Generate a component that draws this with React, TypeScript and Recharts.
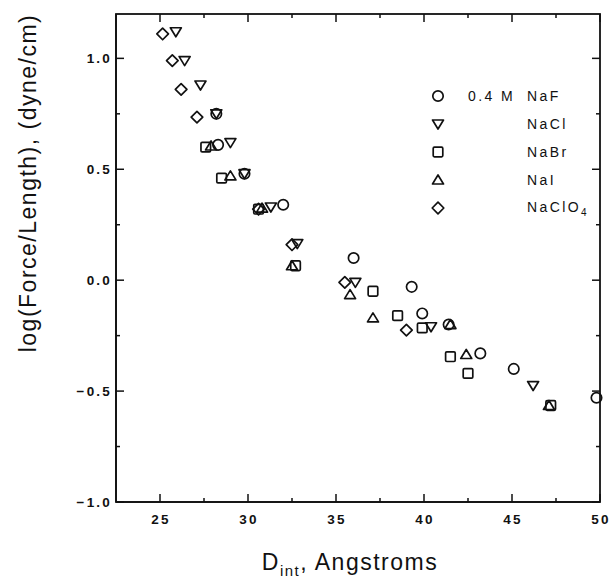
import { ScatterChart, Scatter, XAxis, YAxis, Legend } from "recharts"

const FONT = "'Liberation Sans', Arial, sans-serif"
const INK = "#111"

const W = 613
const H = 581
const MARGIN = { top: 14, right: 13, bottom: 19, left: 0 }
const X_AXIS_H = 60
const Y_AXIS_W = 116
const PLOT_W = W - MARGIN.left - MARGIN.right - Y_AXIS_W
const PLOT_H = H - MARGIN.top - MARGIN.bottom - X_AXIS_H

const xTicks = [25, 27.5, 30, 32.5, 35, 37.5, 40, 42.5, 45, 47.5, 50]
const yTicks = [-1, -0.75, -0.5, -0.25, 0, 0.25, 0.5, 0.75, 1]
const xDomain = [22.5, 50]
const yDomain = [-1, 1.2]

// D_int (Angstroms) vs log(Force/Length)
const naF = [
  { d: 28.2, f: 0.75 }, { d: 28.3, f: 0.61 }, { d: 29.8, f: 0.48 }, { d: 32.0, f: 0.34 },
  { d: 36.0, f: 0.1 }, { d: 39.3, f: -0.03 }, { d: 39.9, f: -0.15 }, { d: 41.4, f: -0.2 },
  { d: 43.2, f: -0.33 }, { d: 45.1, f: -0.4 }, { d: 49.8, f: -0.53 },
]
const naCl = [
  { d: 25.9, f: 1.12 }, { d: 26.4, f: 0.99 }, { d: 27.3, f: 0.88 }, { d: 28.2, f: 0.75 },
  { d: 29.0, f: 0.62 }, { d: 29.8, f: 0.48 }, { d: 31.3, f: 0.33 }, { d: 32.8, f: 0.165 },
  { d: 36.1, f: -0.01 }, { d: 40.4, f: -0.21 }, { d: 46.2, f: -0.475 },
]
const naBr = [
  { d: 27.6, f: 0.6 }, { d: 28.5, f: 0.46 }, { d: 30.6, f: 0.32 }, { d: 32.7, f: 0.065 },
  { d: 37.1, f: -0.05 }, { d: 38.5, f: -0.16 }, { d: 39.9, f: -0.215 }, { d: 41.5, f: -0.345 },
  { d: 42.5, f: -0.42 }, { d: 47.2, f: -0.565 },
]
const naI = [
  { d: 27.9, f: 0.605 }, { d: 29.0, f: 0.47 }, { d: 30.8, f: 0.325 }, { d: 32.5, f: 0.065 },
  { d: 35.8, f: -0.065 }, { d: 37.1, f: -0.17 }, { d: 41.5, f: -0.2 }, { d: 42.4, f: -0.335 },
  { d: 47.1, f: -0.565 },
]
const naClO4 = [
  { d: 25.15, f: 1.11 }, { d: 25.7, f: 0.99 }, { d: 26.2, f: 0.86 }, { d: 27.1, f: 0.735 },
  { d: 30.6, f: 0.32 }, { d: 32.5, f: 0.16 }, { d: 35.5, f: -0.01 }, { d: 39.0, f: -0.225 },
]

const series = [
  { name: "NaF", prefix: "0.4 M", kind: "circle", data: naF },
  { name: "NaCl", prefix: "", kind: "down", data: naCl },
  { name: "NaBr", prefix: "", kind: "square", data: naBr },
  { name: "NaI", prefix: "", kind: "up", data: naI },
  { name: "NaClO", sub: "4", prefix: "", kind: "diamond", data: naClO4 },
]

const isMajorX = (v: number) => v % 5 === 0
const isMajorY = (v: number) => Math.abs(v * 2 - Math.round(v * 2)) < 1e-9

function Mark({ kind, cx, cy }: { kind: string; cx: number; cy: number }) {
  const s = { fill: "none", stroke: INK, strokeWidth: 1.7, strokeLinejoin: "round" as const }
  switch (kind) {
    case "circle":
      return <circle cx={cx} cy={cy} r={5.2} {...s} />
    case "down":
      return <path d={`M${cx - 5.5},${cy - 4} L${cx + 5.5},${cy - 4} L${cx},${cy + 5} Z`} {...s} />
    case "up":
      return <path d={`M${cx - 5.5},${cy + 4} L${cx + 5.5},${cy + 4} L${cx},${cy - 5} Z`} {...s} />
    case "square":
      return <rect x={cx - 4.8} y={cy - 4.8} width={9.6} height={9.6} rx={1.2} {...s} />
    default:
      return <path d={`M${cx},${cy - 5.8} L${cx + 5.8},${cy} L${cx},${cy + 5.8} L${cx - 5.8},${cy} Z`} {...s} />
  }
}

const txt = { fontFamily: FONT, fontSize: 13.5, letterSpacing: 2.2, fill: INK, fontWeight: 600 }

// bottom axis tick plus the matching inward tick on the top edge
function XTick(props: any) {
  const x = Number(props.x)
  const y = Number(props.y)
  const v: number = props.payload.value
  const major = isMajorX(v)
  const len = major ? 8 : 4
  const top = y - PLOT_H
  return (
    <g>
      <line x1={x} y1={y} x2={x} y2={y - len} stroke={INK} strokeWidth={1.5} />
      <line x1={x} y1={top} x2={x} y2={top + len} stroke={INK} strokeWidth={1.5} />
      {major && (
        <text x={x + 1} y={y + 22} textAnchor="middle" {...txt}>
          {String(v)}
        </text>
      )}
    </g>
  )
}

// left axis tick plus the matching inward tick on the right edge
function YTick(props: any) {
  const x = Number(props.x)
  const y = Number(props.y)
  const v: number = props.payload.value
  const major = isMajorY(v)
  const len = major ? 8 : 4
  const right = x + PLOT_W
  return (
    <g>
      <line x1={x} y1={y} x2={x + len} y2={y} stroke={INK} strokeWidth={1.5} />
      <line x1={right} y1={y} x2={right - len} y2={y} stroke={INK} strokeWidth={1.5} />
      {major && (
        <text x={x - 4} y={y + 5} textAnchor="end" {...txt}>
          {v.toFixed(1).replace("-", "\u2212")}
        </text>
      )}
    </g>
  )
}

function LegendBox() {
  return (
    <div style={{ fontFamily: FONT, fontSize: 14, letterSpacing: 2.4, color: INK }}>
      {series.map((s) => (
        <div key={s.name} style={{ display: "flex", alignItems: "center", height: 28 }}>
          <svg width={16} height={16} style={{ flex: "none" }}>
            <Mark kind={s.kind} cx={8} cy={8} />
          </svg>
          <span style={{ width: 59, marginLeft: 22, whiteSpace: "pre" }}>{s.prefix}</span>
          <span>
            {s.name}
            {s.sub && <sub style={{ fontSize: 10, letterSpacing: 0 }}>{s.sub}</sub>}
          </span>
        </div>
      ))}
    </div>
  )
}

const axisLine = { stroke: INK, strokeWidth: 1.6 }

export default function App() {
  return (
    <div style={{ position: "absolute", left: 0, top: 0, width: W, height: H, background: "#fff" }}>
      <ScatterChart width={W} height={H} margin={MARGIN}>
        <XAxis
          type="number"
          dataKey="d"
          domain={xDomain}
          ticks={xTicks}
          interval={0}
          tickSize={0}
          tickMargin={0}
          tickLine={false}
          axisLine={axisLine}
          height={X_AXIS_H}
          tick={(p: any) => <XTick {...p} />}
          label={{
            content: (p: any) => {
              const vb = p.viewBox
              return (
                <text
                  x={vb.x + vb.width / 2 - 8}
                  y={vb.y + 68}
                  textAnchor="middle"
                  fontFamily={FONT}
                  fontSize={23}
                  letterSpacing={1.5}
                  fill={INK}
                >
                  D<tspan fontSize={15} dy={6}>int</tspan>
                  <tspan dy={-6}>, Angstroms</tspan>
                </text>
              )
            },
          }}
        />
        <YAxis
          type="number"
          dataKey="f"
          domain={yDomain}
          ticks={yTicks}
          interval={0}
          tickSize={0}
          tickMargin={0}
          tickLine={false}
          axisLine={axisLine}
          width={Y_AXIS_W}
          tick={(p: any) => <YTick {...p} />}
          label={{
            content: (p: any) => {
              const vb = p.viewBox
              const cx = vb.x + 28
              const cy = vb.y + vb.height / 2 - 75
              const px = Number(vb.x) + Number(vb.width)
              const py = Number(vb.y)
              return (
                <g>
                  {/* plot frame */}
                  <rect x={px} y={py} width={PLOT_W} height={PLOT_H} fill="none" stroke={INK} strokeWidth={1.8} />
                  <text
                    x={cx}
                    y={cy}
                    transform={`rotate(-90 ${cx} ${cy})`}
                    textAnchor="middle"
                    dominantBaseline="central"
                    fontFamily={FONT}
                    fontSize={23}
                    letterSpacing={1.5}
                    fill={INK}
                  >
                    log(Force/Length),  (dyne/cm)
                  </text>
                </g>
              )
            },
          }}
        />
        <Legend
          layout="horizontal"
          verticalAlign="middle"
          align="center"
          content={() => <LegendBox />}
          wrapperStyle={{ left: 430, top: 82, width: 170 }}
        />
        {series.map((s) => (
          <Scatter
            key={s.name}
            name={s.name}
            data={s.data}
            isAnimationActive={false}
            shape={(p: any) => <Mark kind={s.kind} cx={p.cx} cy={p.cy} />}
          />
        ))}
      </ScatterChart>
    </div>
  )
}
